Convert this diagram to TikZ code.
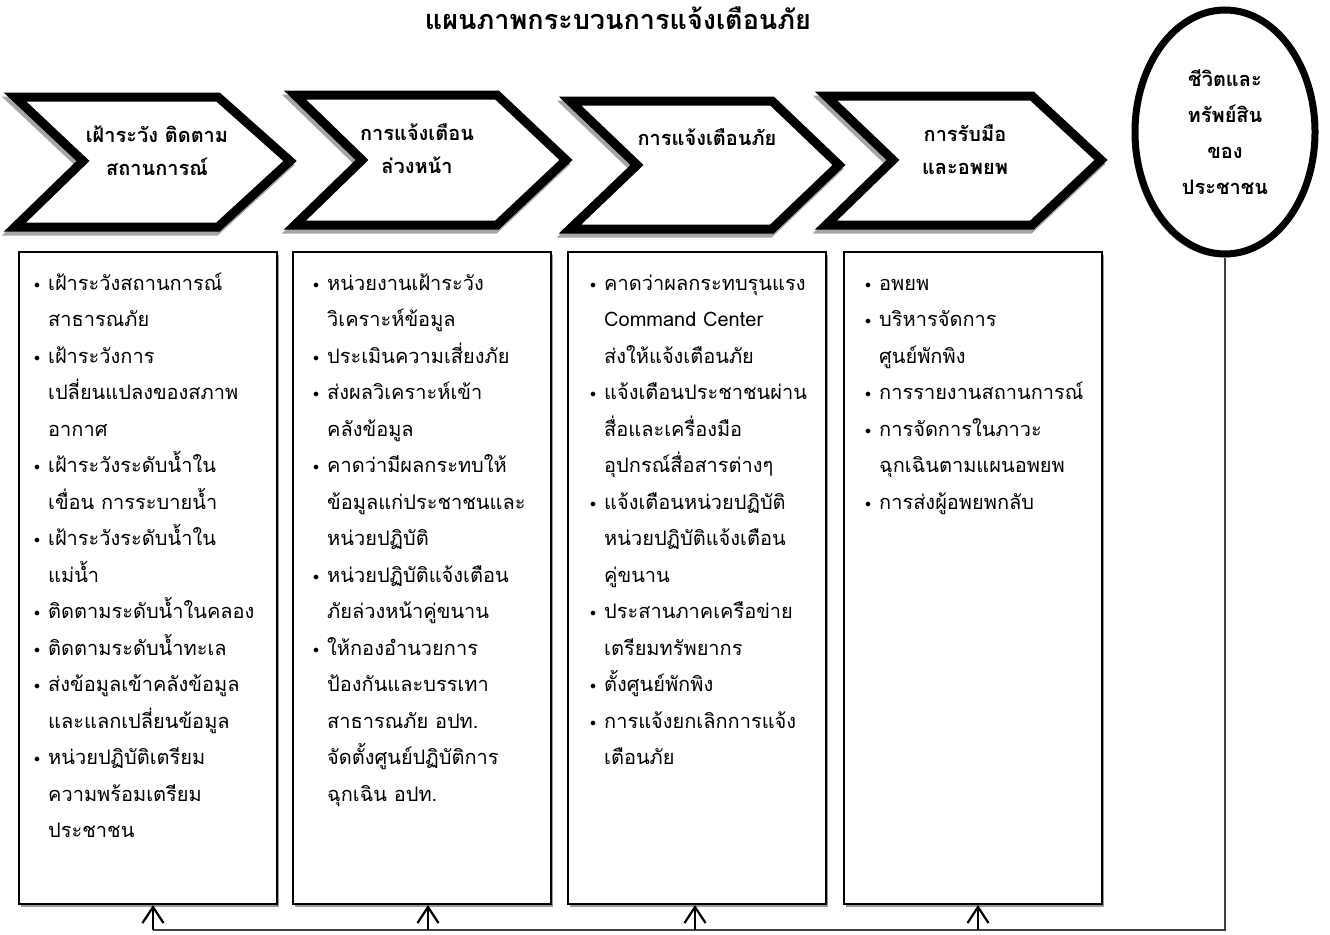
\documentclass[tikz,border=0pt]{standalone}
\usepackage{fontspec}
\newfontfamily\thai[Script=Thai]{Loma}
\usetikzlibrary{shapes.geometric,arrows.meta,shadows}
\newcommand\myb{\makebox[14pt][l]{\raisebox{2pt}{\fontsize{12}{12}\selectfont$\bullet$}}}
\newcommand\myc{\hspace*{14pt}}
\begin{document}
\begin{tikzpicture}[x=1pt,y=-1pt,
  chev/.style={line width=9pt,line join=miter,draw=black,fill=white},
  chevsh/.style={line width=9pt,line join=miter,draw=black!35,shift={(-2,4)}},
  boxn/.style={draw=black,line width=2pt,fill=white,anchor=north west,inner sep=0pt,
    minimum width=258pt,minimum height=652pt,
    drop shadow={shadow xshift=2pt,shadow yshift=-3pt,opacity=1,fill=black!40}},
  listtxt/.style={anchor=north west,inner sep=0pt,align=left,
    font=\thai\fontsize{20}{36.5}\selectfont},
  headtxt/.style={align=center,inner sep=0pt,font=\thai\bfseries\fontsize{20}{33}\selectfont},
  arr/.style={draw=black,line width=2.2pt,-{Straight Barb[length=16pt,width=21pt]}},
  conn/.style={draw=black!75,line width=1.6pt}
]
\useasboundingbox (0,0) rectangle (1330,934);

% title
\node[inner sep=0pt,font=\thai\bfseries\fontsize{27}{30}\selectfont] (title) at (618,18) {แผนภาพกระบวนการแจ้งเตือนภัย};

% chevrons: shadows
\draw[chevsh] (15,97) -- (218,97) -- (290,161) -- (218,227) -- (15,227) -- (83,161) -- cycle;
\draw[chevsh] (295,95) -- (497,95) -- (566,160) -- (497,225) -- (295,225) -- (362,160) -- cycle;
\draw[chevsh] (570,101) -- (772,101) -- (839,165) -- (772,229) -- (570,229) -- (637,165) -- cycle;
\draw[chevsh] (826,96) -- (1032,96) -- (1101,160) -- (1032,225) -- (826,225) -- (893,160) -- cycle;
% chevrons
\draw[chev] (15,97) -- (218,97) -- (290,161) -- (218,227) -- (15,227) -- (83,161) -- cycle;
\draw[chev] (295,95) -- (497,95) -- (566,160) -- (497,225) -- (295,225) -- (362,160) -- cycle;
\draw[chev] (570,101) -- (772,101) -- (839,165) -- (772,229) -- (570,229) -- (637,165) -- cycle;
\draw[chev] (826,96) -- (1032,96) -- (1101,160) -- (1032,225) -- (826,225) -- (893,160) -- cycle;

\node[headtxt] (h1) at (157,151) {เฝ้าระวัง ติดตาม\\สถานการณ์};
\node[headtxt] (h2) at (417,149) {การแจ้งเตือน\\ล่วงหน้า};
\node[headtxt] (h3) at (707,137) {การแจ้งเตือนภัย};
\node[headtxt] (h4) at (965,150) {การรับมือ\\และอพยพ};

% ellipse
\node[ellipse,draw=black,line width=7pt,fill=white,minimum width=180pt,minimum height=244pt,
  drop shadow={shadow xshift=-3pt,shadow yshift=-3pt,opacity=1,fill=black!40},
  align=center,font=\thai\bfseries\fontsize{20}{36}\selectfont] (life) at (1225,132)
  {ชีวิตและ\\ทรัพย์สิน\\ของ\\ประชาชน};

% boxes
\node[boxn] (b1) at (18,251) {};
\node[boxn] (b2) at (292,251) {};
\node[boxn] (b3) at (567,251) {};
\node[boxn] (b4) at (843,251) {};

\node[listtxt] (t1) at (34,270) {\rule{0pt}{20pt}\myb เฝ้าระวังสถานการณ์\\
\myc สาธารณภัย\\
\myb เฝ้าระวังการ\\
\myc เปลี่ยนแปลงของสภาพ\\
\myc อากาศ\\
\myb เฝ้าระวังระดับน้ำใน\\
\myc เขื่อน การระบายน้ำ\\
\myb เฝ้าระวังระดับน้ำใน\\
\myc แม่น้ำ\\
\myb ติดตามระดับน้ำในคลอง\\
\myb ติดตามระดับน้ำทะเล\\
\myb ส่งข้อมูลเข้าคลังข้อมูล\\
\myc และแลกเปลี่ยนข้อมูล\\
\myb หน่วยปฏิบัติเตรียม\\
\myc ความพร้อมเตรียม\\
\myc ประชาชน};

\node[listtxt] (t2) at (313,270) {\rule{0pt}{20pt}\myb หน่วยงานเฝ้าระวัง\\
\myc วิเคราะห์ข้อมูล\\
\myb ประเมินความเสี่ยงภัย\\
\myb ส่งผลวิเคราะห์เข้า\\
\myc คลังข้อมูล\\
\myb คาดว่ามีผลกระทบให้\\
\myc ข้อมูลแก่ประชาชนและ\\
\myc หน่วยปฏิบัติ\\
\myb หน่วยปฏิบัติแจ้งเตือน\\
\myc ภัยล่วงหน้าคู่ขนาน\\
\myb ให้กองอำนวยการ\\
\myc ป้องกันและบรรเทา\\
\myc สาธารณภัย อปท.\\
\myc จัดตั้งศูนย์ปฏิบัติการ\\
\myc ฉุกเฉิน อปท.};

\node[listtxt] (t3) at (590,270) {\rule{0pt}{20pt}\myb คาดว่าผลกระทบรุนแรง\\
\myc Command Center\\
\myc ส่งให้แจ้งเตือนภัย\\
\myb แจ้งเตือนประชาชนผ่าน\\
\myc สื่อและเครื่องมือ\\
\myc อุปกรณ์สื่อสารต่างๆ\\
\myb แจ้งเตือนหน่วยปฏิบัติ\\
\myc หน่วยปฏิบัติแจ้งเตือน\\
\myc คู่ขนาน\\
\myb ประสานภาคเครือข่าย\\
\myc เตรียมทรัพยากร\\
\myb ตั้งศูนย์พักพิง\\
\myb การแจ้งยกเลิกการแจ้ง\\
\myc เตือนภัย};

\node[listtxt] (t4) at (865,270) {\rule{0pt}{20pt}\myb อพยพ\\
\myb บริหารจัดการ\\
\myc ศูนย์พักพิง\\
\myb การรายงานสถานการณ์\\
\myb การจัดการในภาวะ\\
\myc ฉุกเฉินตามแผนอพยพ\\
\myb การส่งผู้อพยพกลับ};

% connectors
\coordinate (a1) at (153,930);
\coordinate (a2) at (428,930);
\coordinate (a3) at (695,930);
\coordinate (a4) at (978,930);
\draw[conn] (life.south) |- (a1);
\draw[arr] (a1) -- (a1 |- b1.south);
\draw[arr] (a2) -- (a2 |- b2.south);
\draw[arr] (a3) -- (a3 |- b3.south);
\draw[arr] (a4) -- (a4 |- b4.south);
\end{tikzpicture}
\end{document}
